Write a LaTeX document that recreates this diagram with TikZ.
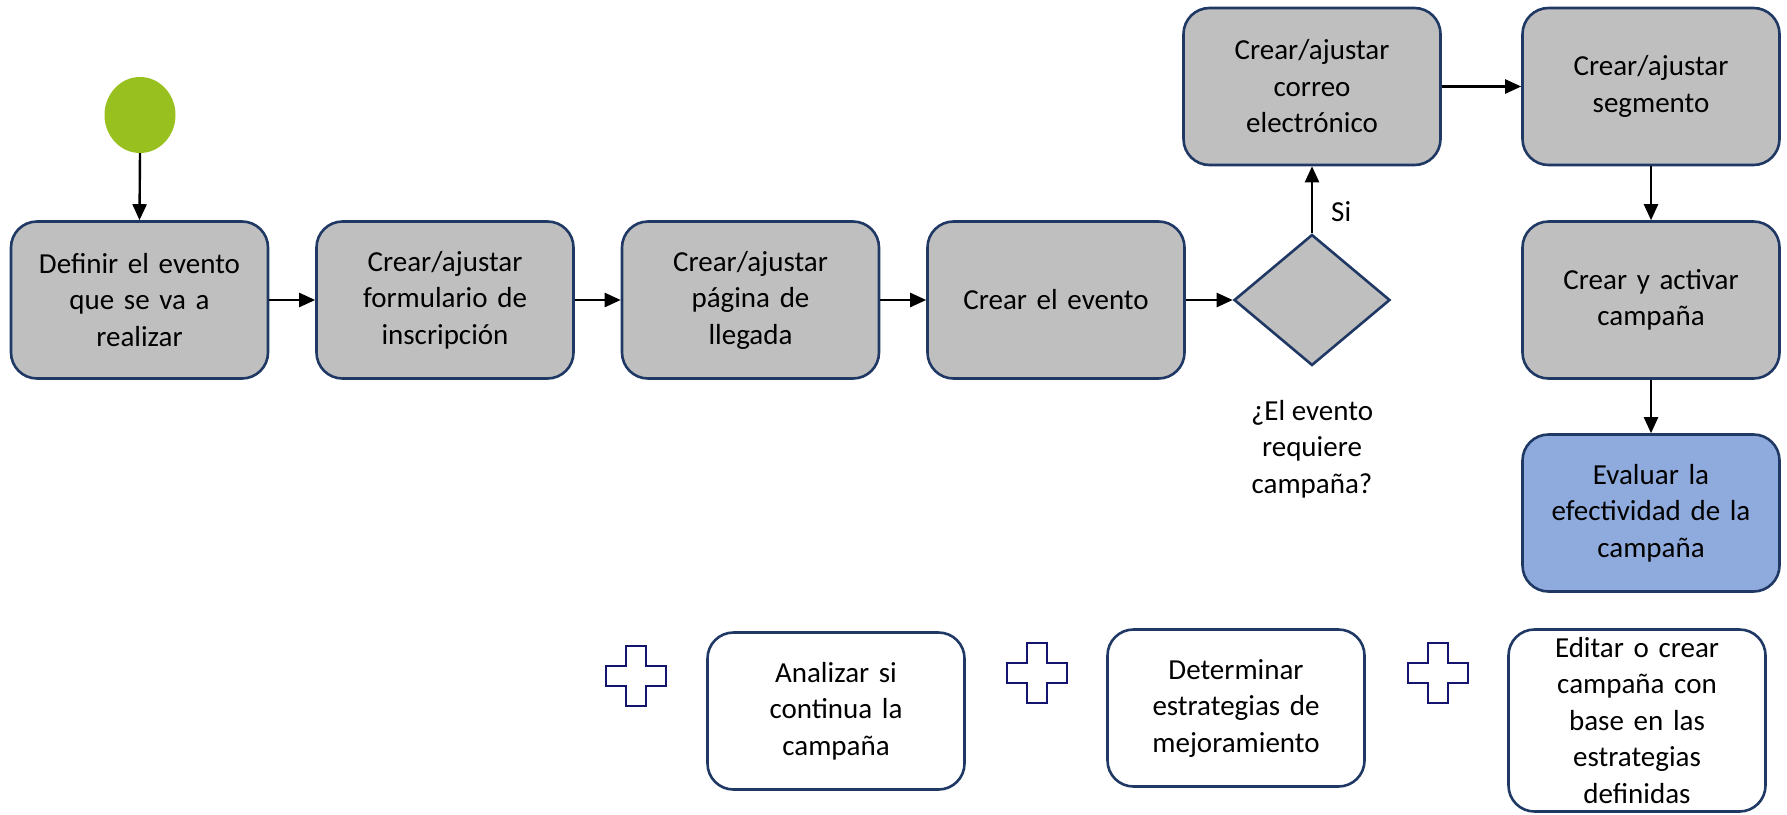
\documentclass[tikz,border=0pt]{standalone}
\usepackage{fontspec}
\setmainfont{Carlito}
\usetikzlibrary{shapes.geometric,arrows.meta}
\definecolor{navyb}{RGB}{31,56,100}
\definecolor{plusc}{RGB}{20,20,110}
\definecolor{grayf}{RGB}{191,191,191}
\definecolor{greenc}{RGB}{152,193,31}
\definecolor{bluef}{RGB}{143,170,220}
\begin{document}
\begin{tikzpicture}[x=1pt,y=-1pt,
  base/.style={draw=navyb,line width=2.6pt,rounded corners=26pt,minimum width=257pt,minimum height=157pt,
    align=center,text width=235pt,inner sep=0pt,font=\fontsize{29pt}{36.5pt}\selectfont},
  gbox/.style={base,fill=grayf},
  bbox/.style={base,fill=bluef},
  wbox/.style={base,fill=white},
  dec/.style={draw=navyb,line width=2.6pt,fill=grayf,diamond,inner sep=0pt,minimum width=156pt,minimum height=131pt},
  arr/.style={draw=black,line width=2.4pt,-{Triangle[length=16pt,width=14pt]}},
  lbl/.style={align=center,font=\fontsize{29pt}{36.5pt}\selectfont,inner sep=0pt},
  plus/.style={draw=plusc,line width=2.6pt,fill=white}]
\useasboundingbox (0,0) rectangle (1787,814);

\node[ellipse,fill=greenc,minimum width=71pt,minimum height=76pt,inner sep=0pt] (start) at (140,115) {};

\node[gbox] (b1) at (139.5,300) {Definir el evento\\que se va a\\realizar};
\node[gbox] (b2) at (445,300) {Crear/ajustar\\formulario de\\inscripción};
\node[gbox] (b3) at (750.5,300) {Crear/ajustar\\página de\\llegada};
\node[gbox] (b4) at (1056,300) {Crear el evento};
\node[dec] (d) at (1312,300) {};
\node[lbl] (q) at (1312,449) {¿El evento\\requiere\\campaña?};
\node[gbox] (mail) at (1312,86.5) {Crear/ajustar\\correo\\electrónico};
\node[gbox] (seg) at (1651,86.5) {Crear/ajustar\\segmento};
\node[gbox] (act) at (1651,300) {Crear y activar\\campaña};
\node[bbox] (eval) at (1651,513) {Evaluar la\\efectividad de la\\campaña};

\node[wbox] (ana) at (836,711) {Analizar si\\continua la\\campaña};
\node[wbox] (det) at (1236,708) {Determinar\\estrategias de\\mejoramiento};
\node[wbox,minimum height=182pt] (edi) at (1637,720.5) {Editar o crear\\campaña con\\base en las\\estrategias\\definidas};

\foreach \cx/\cy in {636/676, 1037/673, 1438/673}{
  \draw[plus] (\cx-10,\cy-30) -- (\cx+10,\cy-30) -- (\cx+10,\cy-10) -- (\cx+30,\cy-10) -- (\cx+30,\cy+10)
    -- (\cx+10,\cy+10) -- (\cx+10,\cy+30) -- (\cx-10,\cy+30) -- (\cx-10,\cy+10) -- (\cx-30,\cy+10)
    -- (\cx-30,\cy-10) -- (\cx-10,\cy-10) -- cycle;
}

\draw[arr] (start.south) -- (b1.north);
\draw[arr] (b1.east) -- (b2.west);
\draw[arr] (b2.east) -- (b3.west);
\draw[arr] (b3.east) -- (b4.west);
\draw[arr] (b4.east) -- (d.west);
\draw[arr] (d.north) -- node[lbl,anchor=west,xshift=18pt,yshift=-12pt] (si) {Si} (mail.south);
\draw[arr] (mail.east) -- (seg.west);
\draw[arr] (seg.south) -- (act.north);
\draw[arr] (act.south) -- (eval.north);
\end{tikzpicture}
\end{document}
